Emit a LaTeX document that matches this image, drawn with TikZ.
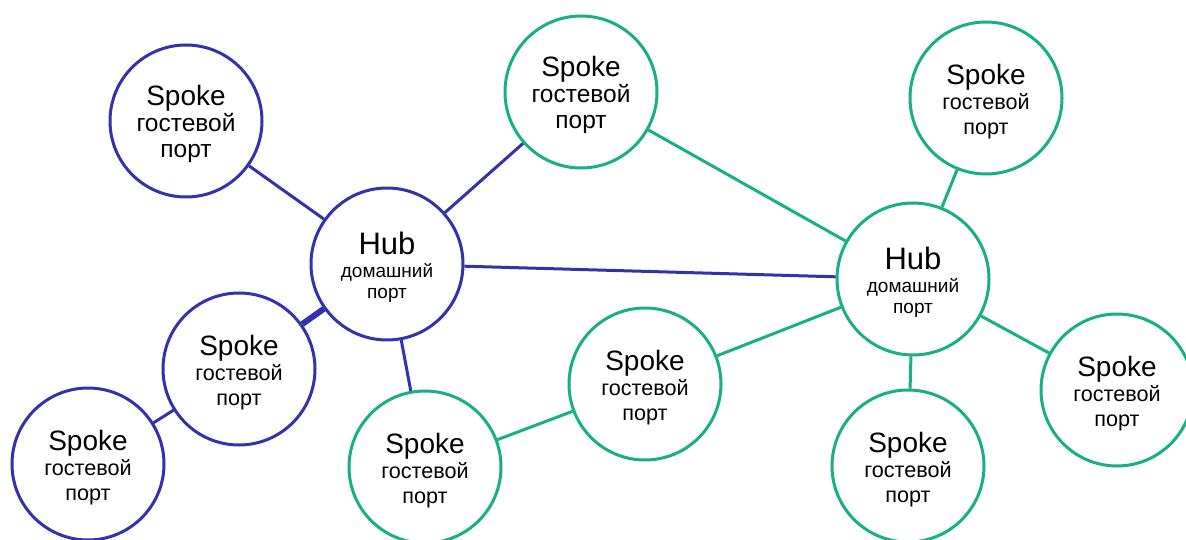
\documentclass[tikz,border=0pt]{standalone}
\usepackage{fontspec}
\setmainfont{Liberation Sans}
\definecolor{hubblue}{HTML}{3232AE}
\definecolor{hubgreen}{HTML}{18AE86}
% the struts lower each text block a little inside its circle
\newcommand{\spoketext}{\fontsize{28}{26}\selectfont\rule{0pt}{27pt}Spoke\\гостевой\\порт}
\newcommand{\hubtext}{\fontsize{31}{21}\selectfont\rule{0pt}{29pt}Hub\\[2pt]домашний\\порт}
\begin{document}
\begin{tikzpicture}[x=1pt,y=-1pt,
  ring/.style={circle,draw,fill=white,line width=3pt,minimum size=152pt,inner sep=0pt,align=center,text=black},
  bluering/.style={ring,draw=hubblue},
  greenring/.style={ring,draw=hubgreen},
  bigsub/.style={font=\fontsize{24.5}{26}\selectfont},
  smallsub/.style={font=\fontsize{21.6}{25}\selectfont},
  hubsub/.style={font=\fontsize{19}{21}\selectfont},
  blink/.style={hubblue,line width=3pt},
  glink/.style={hubgreen,line width=3pt}]
\useasboundingbox (0,0) rectangle (1186,540);
% left (blue) cluster
\node[bluering,bigsub] (sTL) at (186,121) {\spoketext};
\node[bluering,hubsub] (hubL) at (387,264) {\hubtext};
\node[bluering,smallsub] (sML) at (239,369) {\spoketext};
\node[bluering,smallsub] (sBL) at (88,464) {\spoketext};
% right (green) cluster
\node[greenring,bigsub] (sTM) at (581,92) {\spoketext};
\node[greenring,smallsub] (sTR) at (986,98) {\spoketext};
\node[greenring,hubsub] (hubR) at (913,279) {\hubtext};
\node[greenring,smallsub] (sMid) at (645,384) {\spoketext};
\node[greenring,smallsub] (sBC) at (425,467) {\spoketext};
\node[greenring,smallsub] (sBR) at (908,466) {\spoketext};
\node[greenring,smallsub] (sR) at (1117,390) {\spoketext};
% connectors
\draw[blink] (sTL) -- (hubL);
\draw[blink] (hubL) -- (sTM);
\draw[blink] (hubL) -- (hubR);
\draw[blink,line width=6pt] (hubL) -- (sML);
\draw[blink] (sML) -- (sBL);
\draw[blink] (hubL) -- (sBC);
\draw[glink] (sTM) -- (hubR);
\draw[glink] (sTR) -- (hubR);
\draw[glink] (sMid) -- (hubR);
\draw[glink] (sBC) -- (sMid);
\draw[glink] (hubR) -- (sBR);
\draw[glink] (hubR) -- (sR);
\end{tikzpicture}
\end{document}
